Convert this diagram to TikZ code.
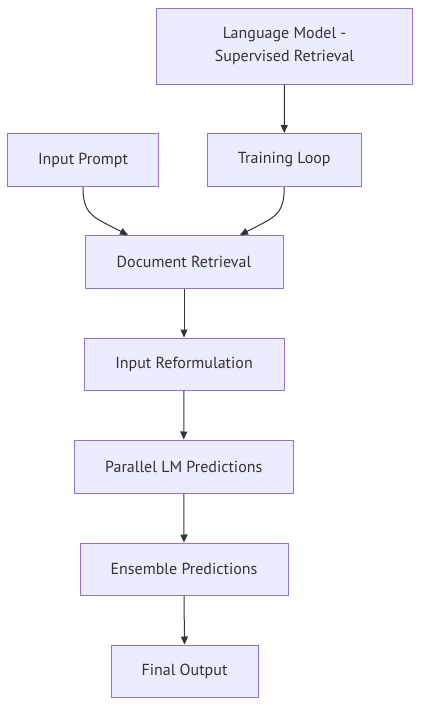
\documentclass[tikz,border=0pt]{standalone}
\usepackage{fontspec}
\setmainfont{PT Sans}
\usetikzlibrary{arrows.meta}
\definecolor{nodefill}{HTML}{ECECFF}
\definecolor{nodeborder}{HTML}{9370DB}
\definecolor{txt}{HTML}{333333}
\begin{document}
\begin{tikzpicture}[x=1pt,y=-1pt,
  box/.style={draw=nodeborder,fill=nodefill,line width=1pt,rectangle,inner sep=0pt,
    text=txt,font=\fontsize{16}{23.5}\selectfont,align=center},
  edge/.style={draw=txt,line width=1pt,-{Triangle[length=8pt,width=7pt]}}]
\useasboundingbox (0,0) rectangle (428,718);
\fill[white] (0,0) rectangle (428,718);
\node[box,minimum width=256pt,minimum height=76pt] (lm) at (284.5,46) {Language Model -\\Supervised Retrieval};
\node[box,minimum width=151pt,minimum height=53pt] (ip) at (83,160) {Input Prompt};
\node[box,minimum width=153.5pt,minimum height=53pt] (tl) at (284.25,160) {Training Loop};
\node[box,minimum width=198pt,minimum height=53pt] (dr) at (184,262) {Document Retrieval};
\node[box,minimum width=200pt,minimum height=52pt] (ir) at (184,364) {Input Reformulation};
\node[box,minimum width=218.5pt,minimum height=53pt] (pp) at (183.75,466.5) {Parallel LM Predictions};
\node[box,minimum width=208pt,minimum height=52pt] (ep) at (184,569) {Ensemble Predictions};
\node[box,minimum width=147pt,minimum height=52pt] (fo) at (184.5,671) {Final Output};
\coordinate (drl) at ([xshift=-56pt]dr.north);
\coordinate (drr) at ([xshift=56pt]dr.north);
\draw[edge] (lm.south) -- (tl.north);
\draw[edge] (ip.south) .. controls +(0,28) and +(-35,-18) .. (drl);
\draw[edge] (tl.south) .. controls +(0,28) and +(35,-18) .. (drr);
\draw[edge] (dr.south) -- (ir.north);
\draw[edge] (ir.south) -- (pp.north);
\draw[edge] (pp.south) -- (ep.north);
\draw[edge] (ep.south) -- (fo.north);
\end{tikzpicture}
\end{document}
